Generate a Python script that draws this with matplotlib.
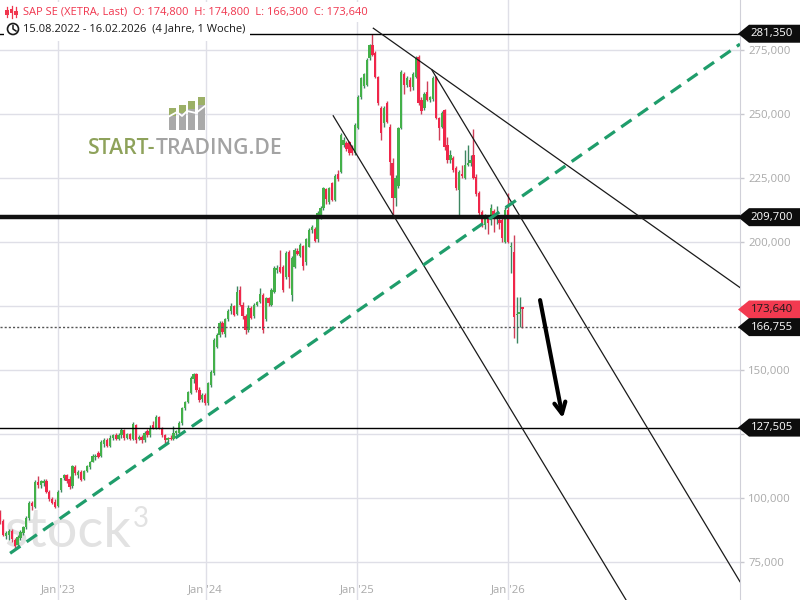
import matplotlib
matplotlib.use('Agg')
import matplotlib.pyplot as plt
import matplotlib.patches as mpatches
from matplotlib.lines import Line2D
from matplotlib.transforms import blended_transform_factory
import numpy as np

plt.rcParams['font.family'] = ['Open Sans', 'DejaVu Sans']
plt.rcParams['lines.scale_dashes'] = False

# SAP SE (XETRA) weekly candles 15.08.2022 - 16.02.2026, EUR
opens = [
    94, 91, 85, 85.5, 87, 83.6, 81.5, 84.5, 86.5, 88.8,
    92.2, 98.2, 96.5, 106.4, 105, 106, 106.8, 102.5, 99.8, 98.5,
    97, 103, 107.7, 108.8, 107.5, 104.5, 112, 109, 110.2, 107.5,
    110.5, 112, 114.2, 116, 117.6, 116.4, 121, 122.7, 120.5, 123.5,
    124.5, 123, 124.5, 126.5, 123.5, 125, 123, 128.5, 123, 124,
    122.5, 126, 124.5, 128.5, 127.5, 131.8, 127.2, 124.6, 122.7, 123.5,
    123, 125.5, 125.3, 129.2, 135, 137.6, 141, 146.5, 148.4, 142,
    138.5, 140.2, 137, 144.2, 148.7, 159.1, 163.7, 168.2, 164, 169.8,
    173, 175, 172, 181.3, 175.5, 171, 165.6, 174.4, 171, 175.5,
    176.5, 179.3, 169.8, 178, 175.4, 180.6, 189, 190.4, 190.2, 186.2,
    196.2, 179.3, 190.4, 196.5, 194.5, 198.4, 192, 198.2, 204.5, 205,
    201, 209.4, 213.2, 220.7, 215.7, 223, 216.4, 226.5, 227.3, 237.9,
    238.5, 239, 237, 234.6, 244.4, 256.8, 261, 261.3, 271.7, 277,
    273.7, 264.6, 252.2, 246.4, 254.2, 245, 231, 217, 222, 244.4,
    265.5, 261.3, 263.3, 260.5, 264.6, 272.4, 255.5, 252.2, 258.7, 255.5,
    255.7, 264.6, 248.3, 245, 251.6, 237.9, 232, 232.7, 228.8, 220.3,
    226.5, 224.9, 230, 230.7, 234, 225.5, 219, 211.8, 206.5, 209,
    208.6, 212, 209.5, 208.6, 208.6, 200.1, 212.5, 198, 196.2, 171.5,
    172, 174.8,
]
highs = [
    95.5, 91.8, 87, 87.8, 87.8, 84.2, 85.5, 87.5, 89, 92.8,
    98.8, 99, 107, 108.5, 107, 107.5, 107.5, 103, 100.5, 99.5,
    103, 108, 109.5, 109.5, 108.5, 113, 113, 111, 111, 111,
    113, 114.5, 117, 117, 118.5, 122.5, 123.5, 123.5, 124.5, 125,
    125.2, 125.5, 127.5, 127, 125.5, 125.5, 129.5, 129, 124.5, 124.5,
    126, 127, 128.5, 130, 132.5, 132, 127.8, 125, 124, 124.5,
    128, 126.5, 130, 135.5, 138, 141.8, 147.5, 149, 149, 143.5,
    141, 141, 145.5, 150, 162.5, 164.5, 169, 169, 170.5, 173.8,
    176, 175.5, 183, 183, 176.7, 172, 175.5, 175, 176, 177,
    182, 180, 178.5, 178.5, 182, 190.5, 191, 196.9, 191, 196.5,
    197, 194.5, 197.5, 197.5, 199.5, 199, 201.5, 205.5, 206.5, 206,
    212, 214, 221.5, 221, 221.5, 223.5, 226.5, 228, 242.5, 241,
    239.5, 239.5, 238, 246.5, 257.5, 264.5, 266, 272, 277.5, 281.35,
    274.5, 265, 253, 253, 255, 246, 233, 226, 245, 267,
    266.5, 265, 264.5, 266.5, 272.8, 273, 256.5, 258.5, 263, 257,
    265, 265, 249, 251, 252, 241, 236, 233.5, 229.5, 228,
    230, 236, 238, 234, 244, 226.5, 219.8, 212.5, 211, 210,
    215, 213, 214, 210, 210, 213.5, 219, 200, 202.7, 178.6,
    178.6, 174.8,
]
lows = [
    90, 85, 84, 83.5, 83, 80.5, 81, 83.5, 85.5, 88,
    91.5, 95.5, 96, 104, 104, 104.5, 102, 99, 97.5, 96,
    96.5, 102.5, 107, 106, 103.5, 104, 109, 108, 106.5, 107,
    110, 111.5, 114, 115, 115.5, 116, 120, 120, 120, 122.5,
    122.5, 122.5, 123.5, 122.5, 123, 122.5, 122.5, 121.5, 122.5, 121.5,
    122, 124, 124, 127, 127, 127, 124, 121.5, 122, 122.5,
    122.5, 124.5, 125, 128.5, 134.5, 137, 140.5, 145, 141.5, 137.5,
    137.5, 136.5, 136.5, 143.5, 148, 158.5, 163, 164, 163, 169,
    172, 171, 171.5, 175, 170, 164, 165, 170, 170.5, 175,
    176, 164.5, 169, 175, 175, 180, 188, 188, 180.5, 185.5,
    182, 177, 190, 195, 194, 189, 191, 198, 203.5, 200,
    200, 209, 212.5, 215, 215, 216, 216, 224, 227, 237,
    235.5, 234, 234, 234, 244, 256, 260, 261, 271, 272.5,
    264, 253.5, 240, 245, 246.5, 226, 210.5, 214, 221, 244,
    258, 260.5, 259, 259.5, 264, 253.5, 250, 251.5, 255, 254.5,
    255, 248, 240, 244.5, 236, 231, 231, 227.5, 220.5, 210.2,
    225, 224.5, 229.5, 229.5, 224.5, 218, 210.5, 206, 205, 203,
    206.5, 204, 207, 205, 200, 199.5, 199.5, 188, 162.4, 160.4,
    166.9, 166.3,
]
closes = [
    91, 85.6, 86.2, 87, 83.8, 81.3, 84.9, 86.9, 88.8, 92.2,
    98.2, 96.8, 106.4, 105.2, 106.5, 106.8, 102.5, 99.5, 98.2, 96.6,
    102.5, 107.7, 108.8, 106.5, 104.2, 112.5, 109.6, 110.2, 107, 110.5,
    112.5, 114.2, 116.4, 116.6, 116, 122, 122.7, 120.5, 123.5, 124.5,
    123, 124.5, 126.5, 123.5, 125, 123, 128.9, 122.7, 124, 122.5,
    125.5, 124.5, 127.5, 127.5, 131.8, 127.3, 124.6, 122.7, 123.5, 123,
    125.5, 126, 129.2, 135, 137.6, 141.5, 146.8, 148.4, 142, 138.3,
    140.2, 137, 144.8, 149.4, 161.7, 163.7, 168.2, 165, 169.8, 173,
    175, 171.5, 180.5, 175.4, 171, 165.6, 174.4, 170.5, 175.5, 176.5,
    179.5, 165.6, 178, 176, 181.3, 189.7, 190, 188.4, 181.3, 195.8,
    186.5, 193.8, 196.9, 195.5, 198.8, 190.6, 201, 204.7, 206, 200.5,
    211.5, 213.3, 221, 216.8, 221.2, 216.4, 225.9, 224.6, 241.8, 239.8,
    236.3, 234.6, 234.6, 245.7, 256.8, 264, 265.5, 271.1, 277, 273,
    264.6, 254.2, 242.5, 252.2, 247, 231.4, 217, 225, 244.4, 266.5,
    261.3, 264, 260.7, 265.5, 271.8, 254.2, 251, 258, 255.5, 256.5,
    264, 248.5, 244.4, 250.3, 237, 232, 234, 228.1, 221, 227.5,
    225.8, 230.1, 230.7, 232, 224.9, 218.8, 211.2, 207, 209, 207.5,
    213.2, 209.5, 211, 207.3, 201.4, 212.5, 200.1, 198.5, 170.8, 171.8,
    172.5, 173.64,
]

# x axis is the week number counted from 15.08.2022
year_ticks = [20, 71.2, 123.6, 176]
year_labels = ["Jan '23", "Jan '24", "Jan '25", "Jan '26"]
price_ticks = [75, 100, 125, 150, 175, 200, 225, 250, 275]

# marked levels
lvl_top = 281.35
lvl_res = 209.70
lvl_cur = 166.755
lvl_sup = 127.505
last_close = 173.64

# drawn trend lines as (week, price) anchor points
trend_up = [(3.4, 78.4), (256.4, 277.3)]
chan_top = [(129.3, 283.5), (256.4, 182.2)]
chan_mid = [(149.6, 267.2), (256.4, 67.3)]
chan_low = [(115.4, 249.3), (218.5, 57.2)]
arrow_from = (187.1, 177.3)
arrow_to = (195.0, 131.2)

GREEN = '#43b049'
RED = '#f0264a'


def fmt(v):
    return f"{v:.3f}".replace('.', ',')


def px(x, y):
    # figure pixel -> figure fraction
    return x / 800, 1 - y / 600


fig = plt.figure(figsize=(8, 6), dpi=100)
ax = fig.add_axes([0, 0, 740 / 800, 1])
ymin, ymax = 60.16, 294.53
ax.set_xlim(-0.1, 256.4)
ax.set_ylim(ymin, ymax)

# tags hide the 125 and 175 labels in the original, so leave them blank
ax.set_yticks(price_ticks)
ax.set_yticklabels(['' if v in (125, 175) else fmt(v) for v in price_ticks])
ax.set_xticks(year_ticks)
ax.grid(True, color='#dfdfe7', lw=1)
ax.set_axisbelow(True)
ax.tick_params(axis='x', length=0, labelbottom=False)
ax.yaxis.tick_right()
ax.tick_params(axis='y', length=3, width=1, color='#c8c8cf',
               labelcolor='#a9a9a9', labelsize=8.2, pad=3)
for s in ['top', 'left', 'bottom']:
    ax.spines[s].set_visible(False)
ax.spines['right'].set_color('#d0d0d8')

bx = blended_transform_factory(ax.transData, ax.transAxes)
for t, lab in zip(year_ticks, year_labels):
    ax.text(t, 0.017, lab, transform=bx, ha='center', va='center',
            color='#a9a9a9', fontsize=8.2)

# watermark
ax.text(4 / 740, 0.088, 'stock', transform=ax.transAxes, fontsize=39,
        color='#e2e2e2', family='Lato', va='baseline', zorder=1)
ax.text(133 / 740, 0.157, '3', transform=ax.transAxes, fontsize=20,
        color='#e2e2e2', family='Lato', va='top', zorder=1)

# candles
o = np.array(opens)
h = np.array(highs)
l = np.array(lows)
c = np.array(closes)
idx = np.arange(len(c))
up = c >= o
ax.vlines(idx, l, h, colors=np.where(up, '#3d8661', '#cf3f58'), lw=1, zorder=3)
ax.bar(idx, np.maximum(np.abs(c - o), 0.45), bottom=np.minimum(o, c),
       width=0.8, color=np.where(up, GREEN, RED), lw=0, zorder=4)

# levels
ax.axhline(lvl_top, color='black', lw=1, zorder=5)
ax.axhline(lvl_res, color='#111111', lw=3.2, zorder=5)
ax.axhline(lvl_sup, color='black', lw=1, zorder=5)
ax.axhline(lvl_cur, color='#555555', lw=1, ls=(0, (1.5, 1.5)), zorder=5)

for pts in [chan_top, chan_mid, chan_low]:
    xs, ys = zip(*pts)
    ax.plot(xs, ys, color='#1a1a1a', lw=0.9, zorder=5)
xs, ys = zip(*trend_up)
ax.plot(xs, ys, color='#1f9d6b', lw=2.3, ls=(0, (9, 5.5)), zorder=6)

ax.annotate('', xy=arrow_to, xytext=arrow_from,
            arrowprops=dict(arrowstyle='->,head_length=0.8,head_width=0.4',
                            lw=3, color='black', shrinkA=0, shrinkB=0),
            zorder=7)

# price tags on the right
tr = blended_transform_factory(ax.transAxes, ax.transData)
hh = 9 * (ymax - ymin) / 600
tags = [(lvl_top, '#0d0d0d', 'white'), (lvl_res, '#0d0d0d', 'white'),
        (last_close, '#f23a50', '#1a1a1a'), (lvl_cur, '#0d0d0d', 'white'),
        (lvl_sup, '#0d0d0d', 'white')]
for v, fc, tc in tags:
    poly = mpatches.Polygon([(738 / 740, v), (749 / 740, v + hh), (800 / 740, v + hh),
                             (800 / 740, v - hh), (749 / 740, v - hh)],
                            closed=True, transform=tr, facecolor=fc,
                            edgecolor='none', clip_on=False, zorder=10)
    ax.add_patch(poly)
    ax.text(1.043, v, fmt(v), transform=tr, ha='center', va='center',
            color=tc, fontsize=8.2, zorder=11, clip_on=False)

# header
fig.patches.append(mpatches.Rectangle(px(4, 22), 365 / 800, 20 / 600,
                                      transform=fig.transFigure,
                                      facecolor='white', edgecolor='none'))
fig.patches.append(mpatches.Rectangle(px(4, 41), 246 / 800, 19 / 600,
                                      transform=fig.transFigure,
                                      facecolor='white', edgecolor='none'))
t1 = fig.text(*px(23, 12), 'SAP SE (XETRA, Last)  O: 174,800  H: 174,800  L: 166,300  C: 173,640',
              color='#f0364e', fontsize=8.0, va='center', ha='left')
t2 = fig.text(*px(23, 29), '15.08.2022 - 16.02.2026  (4 Jahre, 1 Woche)',
              color='#1a1a1a', fontsize=8.0, va='center', ha='left')

# small candle icon
for cx, top, bot, b0, b1 in [(7, 7, 17, 10, 15), (11.5, 6, 18, 9, 13), (16, 7, 17, 11, 15)]:
    fig.lines.append(Line2D([cx / 800, cx / 800], [1 - top / 600, 1 - bot / 600],
                            transform=fig.transFigure, color='#f0364e', lw=0.9))
    fig.patches.append(mpatches.Rectangle(px(cx - 1.6, b1), 3.2 / 800, (b1 - b0) / 600,
                                          transform=fig.transFigure,
                                          facecolor='#f0364e', edgecolor='none'))
# clock icon
fig.patches.append(mpatches.Ellipse(px(13, 29), 11 / 800, 11 / 600, transform=fig.transFigure,
                                    facecolor='none', edgecolor='#1a1a1a', lw=1.2))
fig.lines.append(Line2D([13 / 800, 13 / 800, 16 / 800], [1 - 25.5 / 600, 1 - 29 / 600, 1 - 31 / 600],
                        transform=fig.transFigure, color='#1a1a1a', lw=1.1))

# start-trading logo
for bx0, btop in [(169, 108), (178.5, 105), (188, 101), (197.5, 97)]:
    fig.patches.append(mpatches.Rectangle(px(bx0, 130), 7.3 / 800, (130 - btop) / 600,
                                          transform=fig.transFigure,
                                          facecolor='#a9a9a9', edgecolor='none'))
    fig.patches.append(mpatches.Rectangle(px(bx0, btop + 8), 7.3 / 800, 8 / 600,
                                          transform=fig.transFigure,
                                          facecolor='#9cb067', edgecolor='none'))
fig.lines.append(Line2D([x / 800 for x in (168, 177, 182, 187, 196, 205)],
                        [1 - y / 600 for y in (117, 112, 116, 111, 113, 106)],
                        transform=fig.transFigure, color='white', lw=1.3))
s1 = fig.text(*px(88, 149), 'START-', color='#8ea25b', fontsize=15.2,
              fontweight='semibold', va='center', ha='left')
ax.annotate('TRADING.DE', xy=(1, 0.5), xycoords=s1, va='center', ha='left',
            color='#a3a3a3', fontsize=15.2, fontweight='semibold',
            annotation_clip=False)

fig.savefig('out.png', dpi=100)
